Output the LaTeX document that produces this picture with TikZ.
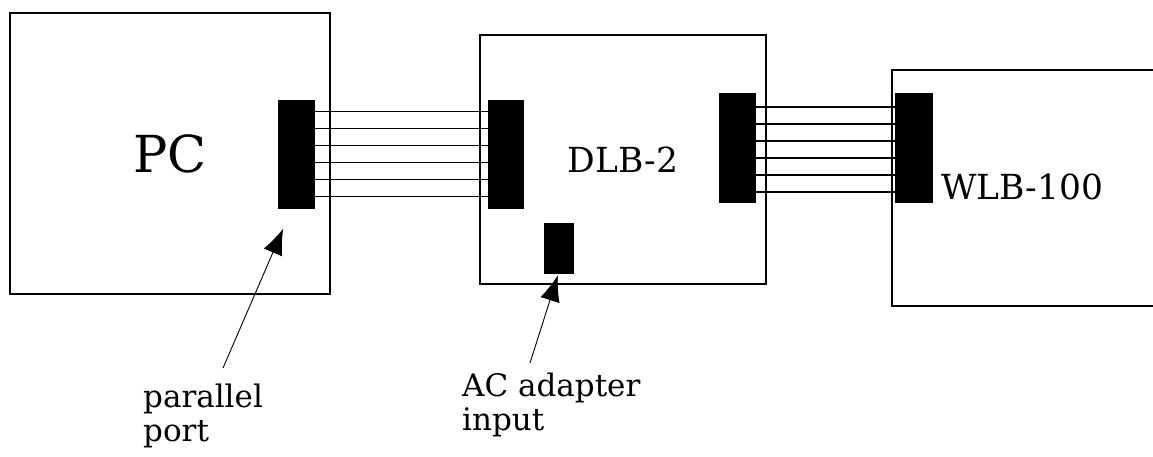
\documentclass[tikz,border=0pt]{standalone}
\usepackage{fontspec}
\setmainfont{DejaVu Serif}
\usetikzlibrary{arrows.meta, positioning}

\tikzset{
  unitbox/.style={rectangle, draw, line width=1.2pt, inner sep=0pt},
  plug/.style={rectangle, fill=black, draw=black, line width=0.6pt, inner sep=0pt},
  wire/.style={line width=1.2pt},
  pointer/.style={-{Latex[length=26pt,width=20pt]}, line width=0.9pt},
  tag/.style={align=left, inner sep=0pt, font=\fontsize{31}{34}\selectfont}
}

\begin{document}
\begin{tikzpicture}[x=1pt, y=-1pt]

  \useasboundingbox (0,0) rectangle (1153,456);

  %% units
  \node[unitbox, minimum width=320pt, minimum height=281pt,
        font=\fontsize{51}{51}\selectfont] (pc) at (170,153.5) {PC};
  \node[unitbox, minimum width=286pt, minimum height=249pt,
        font=\fontsize{34.5}{35}\selectfont] (dlb) at (623,159.5) {DLB-2};
  \draw[line width=1.2pt] (1153,70) -| (892,306) -- (1153,306);
  \node[anchor=base west, inner sep=0pt, font=\fontsize{34.5}{35}\selectfont]
        (wlbname) at (941,199.3) {WLB-100};

  %% plugs
  \node[plug, minimum width=36pt, minimum height=108pt] (pport) at (296,154) {};
  \node[plug, minimum width=35pt, minimum height=108pt] (dlbin) at (505.5,154) {};
  \node[plug, minimum width=36pt, minimum height=109pt] (dlbout) at (737,147.5) {};
  \node[plug, minimum width=37pt, minimum height=109pt] (wlbin) at (913.5,147.5) {};
  \node[plug, minimum width=29pt, minimum height=50pt] (acin) at (558.5,248) {};

  %% cables
  \foreach \k in {-2.5,-1.5,...,2.5} {
    \draw[wire] ([yshift=\k*17pt]pport.east) -- ([yshift=\k*17pt]dlbin.west);
    \draw[wire] ([yshift=\k*17pt-2pt]dlbout.east) -- ([yshift=\k*17pt-2pt]wlbin.west);
  }

  %% callouts
  \node[tag, anchor=base west] (pplabel) at (143,441.5) {parallel\\port};
  \node[tag, anchor=base west] (aclabel) at (462,430) {AC adapter\\input};
  \coordinate (pptail) at (223,368);
  \coordinate (actail) at (530,363);
  \draw[pointer, shorten >=22pt] (pptail) -- ([xshift=-4pt]pport.south);
  \draw[pointer, shorten >=2pt] (actail) -- (acin.south);

\end{tikzpicture}
\end{document}
